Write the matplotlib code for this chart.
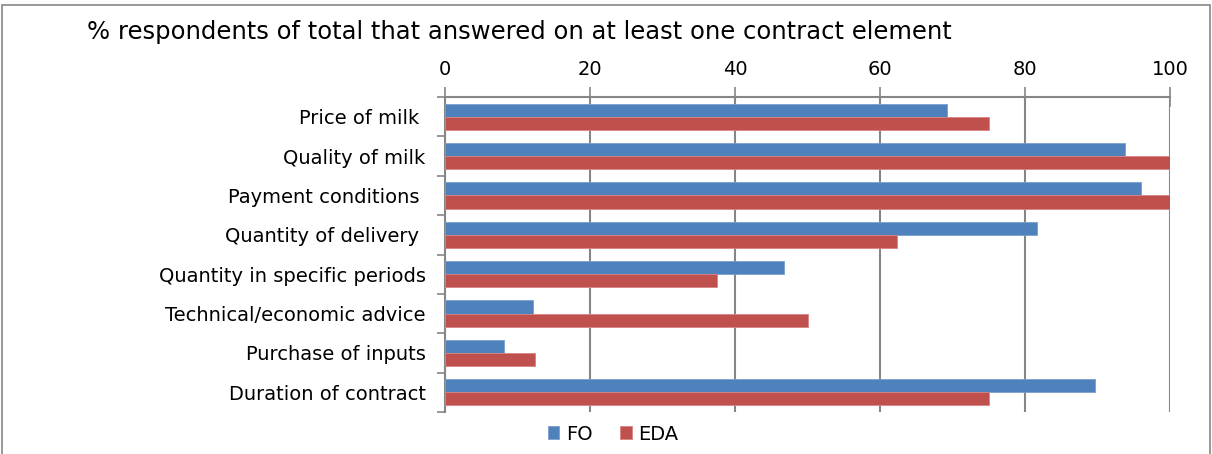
import matplotlib
matplotlib.use("Agg")
import matplotlib.pyplot as plt
from matplotlib.patches import Rectangle
import numpy as np

categories = ["Price of milk ", "Quality of milk", "Payment conditions ",
              "Quantity of delivery ", "Quantity in specific periods",
              "Technical/economic advice", "Purchase of inputs", "Duration of contract"]
fo = [69.3, 93.8, 96.0, 81.6, 46.8, 12.1, 8.1, 89.7]
eda = [75.0, 100.0, 100.0, 62.4, 37.5, 50.0, 12.4, 75.0]
series_names = ["FO", "EDA"]
xticks = [0, 20, 40, 60, 80, 100]

fig = plt.figure(figsize=(12.12, 4.54), dpi=100)
ax = fig.add_axes([445/1212, 1-412/454, (1170-445)/1212, (412-97)/454])

y = np.arange(len(categories))
h = 0.333
ax.barh(y - h/2, fo, height=h, color="#4F81BD", edgecolor="#7A9FD0", linewidth=0.6, label=series_names[0], zorder=3)
ax.barh(y + h/2, eda, height=h, color="#C0504D", edgecolor="#D98482", linewidth=0.6, label=series_names[1], zorder=3)

ax.set_xlim(0, 100)
ax.set_ylim(len(categories) - 0.5, -0.5)
ax.set_xticks(xticks)
ax.xaxis.tick_top()
ax.tick_params(axis="x", direction="inout", length=14, width=1.2, color="#868686",
               labelsize=14, pad=6, top=True, bottom=False)
ax.grid(axis="x", color="#868686", linewidth=1.5, zorder=0)

ax.set_yticks(y)
ax.set_yticklabels(categories)
ax.set_yticks(np.arange(len(categories) + 1) - 0.5, minor=True)
ax.tick_params(axis="y", which="major", length=0, labelsize=14, pad=14)
ax.tick_params(axis="y", which="minor", length=6, width=1.2, color="#868686", direction="out")

for s in ["right", "bottom"]:
    ax.spines[s].set_visible(False)
for s in ["left", "top"]:
    ax.spines[s].set_color("#868686")
    ax.spines[s].set_linewidth(1.5)

fig.text(87/1212, 1-32/454, "% respondents of total that answered on at least one contract element",
         fontsize=17.5, va="center", ha="left")

leg = fig.legend(loc="center", bbox_to_anchor=(613/1212, 1-434/454), ncol=2, frameon=False,
                 fontsize=14, handlelength=0.6, handleheight=0.6, handletextpad=0.35, columnspacing=1.4)

fig.patches.append(Rectangle((2/1212, -0.01), 1 - 4/1212, 1.0, transform=fig.transFigure,
                             fill=False, edgecolor="#868686", linewidth=1.2))

fig.savefig("out.png", dpi=100)
